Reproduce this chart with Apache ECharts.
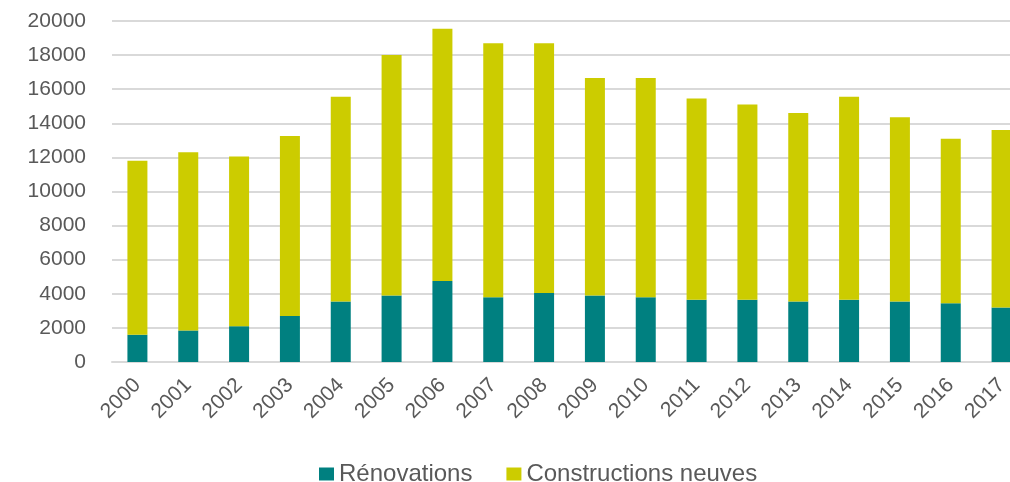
<!DOCTYPE html>
<html>
<head>
<meta charset="utf-8">
<script src="https://cdn.jsdelivr.net/npm/echarts@6/dist/echarts.min.js"></script>
<style>
  html, body { margin: 0; padding: 0; background: #fff; }
  #chart { width: 1010px; height: 482px; }
</style>
</head>
<body>
<div id="chart"></div>
<script>
// années
const years = ["2000", "2001", "2002", "2003", "2004", "2005", "2006", "2007", "2008",
  "2009", "2010", "2011", "2012", "2013", "2014", "2015", "2016", "2017"];
// rénovations
const renovations = [1600, 1850, 2100, 2700, 3550, 3900, 4750, 3800, 4050,
  3900, 3800, 3650, 3650, 3550, 3650, 3550, 3450, 3200];
// constructions neuves
const constructions = [10200, 10450, 9950, 10550, 12000, 14100, 14800, 14900, 14650,
  12750, 12850, 11800, 11450, 11050, 11900, 10800, 9650, 10400];

const labelFont = "'Liberation Sans', Arial, sans-serif";

const chart = echarts.init(document.getElementById("chart"));
const option = {
  animation: false,
  grid: {
    left: 112,
    top: 21,
    width: 915,
    bottom: 120,
    outerBoundsMode: "none",
    containLabel: false,
  },
  legend: {
    top: 457,
    left: 314,
    itemWidth: 15,
    itemHeight: 13,
    itemGap: 34,
    icon: "rect",
    textStyle: { color: "#595959", fontSize: 24, fontFamily: labelFont },
    data: ["Rénovations", "Constructions neuves"],
  },
  xAxis: {
    type: "category",
    data: years,
    axisTick: { show: false },
    axisLine: { lineStyle: { color: "#d9d9d9", width: 2 } },
    axisLabel: {
      rotate: 45,
      interval: 0,
      color: "#595959",
      fontSize: 21,
      fontFamily: labelFont,
      margin: 20,
    },
  },
  yAxis: {
    type: "value",
    min: 0,
    max: 20000,
    interval: 2000,
    axisLabel: {
      color: "#595959",
      fontSize: 21,
      fontFamily: labelFont,
      margin: 26,
      formatter: (v) => String(v),
    },
    splitLine: { lineStyle: { color: "#d9d9d9", width: 2 } },
  },
  series: [
    {
      name: "Rénovations",
      type: "bar",
      stack: "total",
      barWidth: 20,
      itemStyle: { color: "#008080" },
      data: renovations,
    },
    {
      name: "Constructions neuves",
      type: "bar",
      stack: "total",
      barWidth: 20,
      itemStyle: { color: "#cccc00" },
      data: constructions,
    },
  ],
};
chart.setOption(option);
</script>
</body>
</html>
